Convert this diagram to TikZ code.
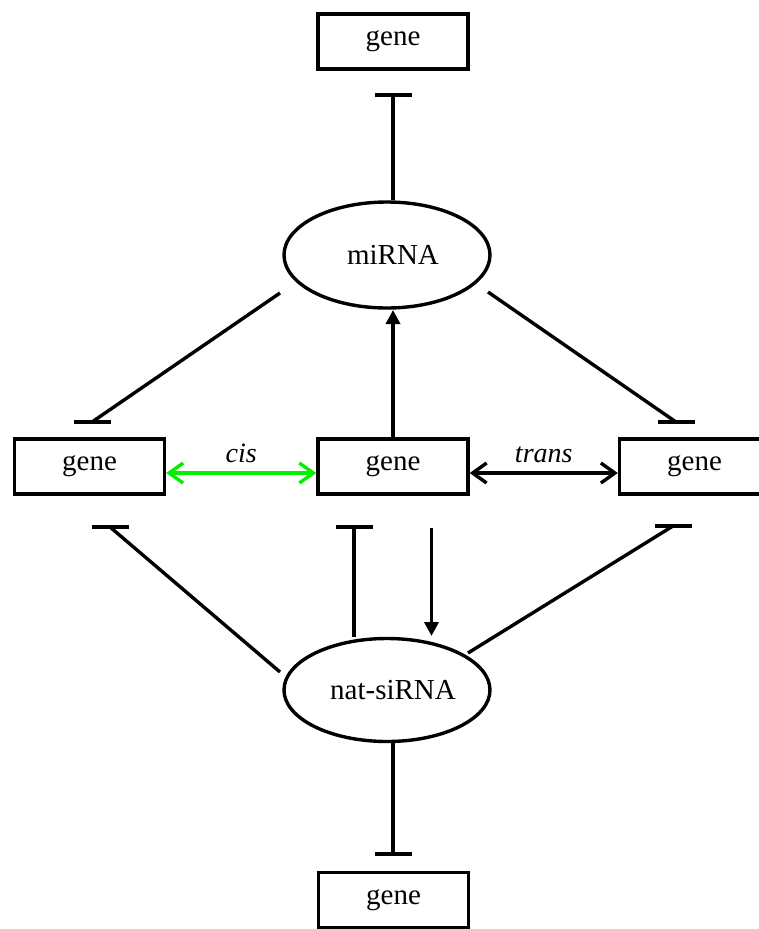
\documentclass[tikz,border=0pt]{standalone}
\usepackage{fontspec}
\setmainfont{Liberation Serif}
\usetikzlibrary{arrows.meta,shapes.geometric}

\definecolor{cisgreen}{RGB}{0,240,0}

\tikzset{
  base/.style={line width=3.4pt},
  genebox/.style={base, draw, rectangle, inner sep=0pt,
    minimum width=150pt, minimum height=55pt, font=\fontsize{29}{32}\selectfont},
  oval/.style={base, draw, ellipse, inner sep=0pt,
    minimum width=206pt},
  ovaltext/.style={font=\fontsize{29}{32}\selectfont, inner sep=0pt},
  edgelabel/.style={font=\fontsize{28}{30}\selectfont\itshape, inner sep=0pt},
  inhibit/.style={base},
  activate/.style={base, -{Triangle[length=14pt,width=14pt]}},
  both/.style={base, line cap=round, line join=round,
    {Straight Barb[length=14pt,width=20pt]}-{Straight Barb[length=14pt,width=20pt]}},
  % horizontal blocking bar drawn at the end of an inhibition line
  pics/tbar/.style={code={\draw[base] (-18.5,0) -- (18.5,0);}}
}

\begin{document}
\begin{tikzpicture}[x=1pt,y=-1pt]
\useasboundingbox (0,0) rectangle (759,929);

% gene boxes
\node[genebox] (gtop) at (393,41.5) {gene};
\node[genebox] (gl)   at (89.5,466.5) {gene};
\node[genebox] (gm)   at (393,466.5) {gene};
\node[genebox] (gr)   at (694.5,466.5) {gene};
\node[genebox] (gbot) at (393.5,900) {gene};

% small RNA ovals
\node[oval, minimum height=106pt] (mir) at (387,255) {};
\node[ovaltext] (mirlbl) at (393,255) {miRNA};
\node[oval, minimum height=103pt] (nat) at (387,690) {};
\node[ovaltext] (natlbl) at (393,690) {nat-siRNA};

% connector end points
\coordinate (mirTop)  at (393,200);
\coordinate (barTop)  at (393,95);
\coordinate (mirL)    at (280,293);
\coordinate (barL)    at (92,422);
\coordinate (mirR)    at (488,292);
\coordinate (barR)    at (676,422);
\coordinate (gmTop)   at (393,437);
\coordinate (mirBot)  at (393,310);
\coordinate (natL)    at (280,672);
\coordinate (barLL)   at (110,527);
\coordinate (natM)    at (354,637);
\coordinate (barMM)   at (354,527);
\coordinate (gmDown)  at (431.5,528);
\coordinate (natTop)  at (431.5,636);
\coordinate (natR)    at (468,653);
\coordinate (barRR)   at (673,526);
\coordinate (natBot)  at (393,743);
\coordinate (barBot)  at (393,854);

% miRNA regulation
\draw[inhibit] (mirTop) -- (barTop) pic {tbar};
\draw[inhibit] (mirL) -- (barL) pic {tbar};
\draw[inhibit] (mirR) -- (barR) pic {tbar};
\draw[activate] (gmTop) -- (mirBot);

% cis / trans pairing
\draw[both, cisgreen] ([yshift=-6.5pt]gl.east) -- node[edgelabel, above=9pt, text=black] (cislbl) {cis} ([yshift=-6.5pt]gm.west);
\draw[both] ([yshift=-6.5pt]gm.east) -- node[edgelabel, above=9pt] (translbl) {trans} ([yshift=-6.5pt]gr.west);

% nat-siRNA regulation
\draw[inhibit] (natL) -- (barLL) pic {tbar};
\draw[inhibit] (natM) -- (barMM) pic {tbar};
\draw[activate] (gmDown) -- (natTop);
\draw[inhibit] (natR) -- (barRR) pic {tbar};
\draw[inhibit] (natBot) -- (barBot) pic {tbar};
\end{tikzpicture}
\end{document}
